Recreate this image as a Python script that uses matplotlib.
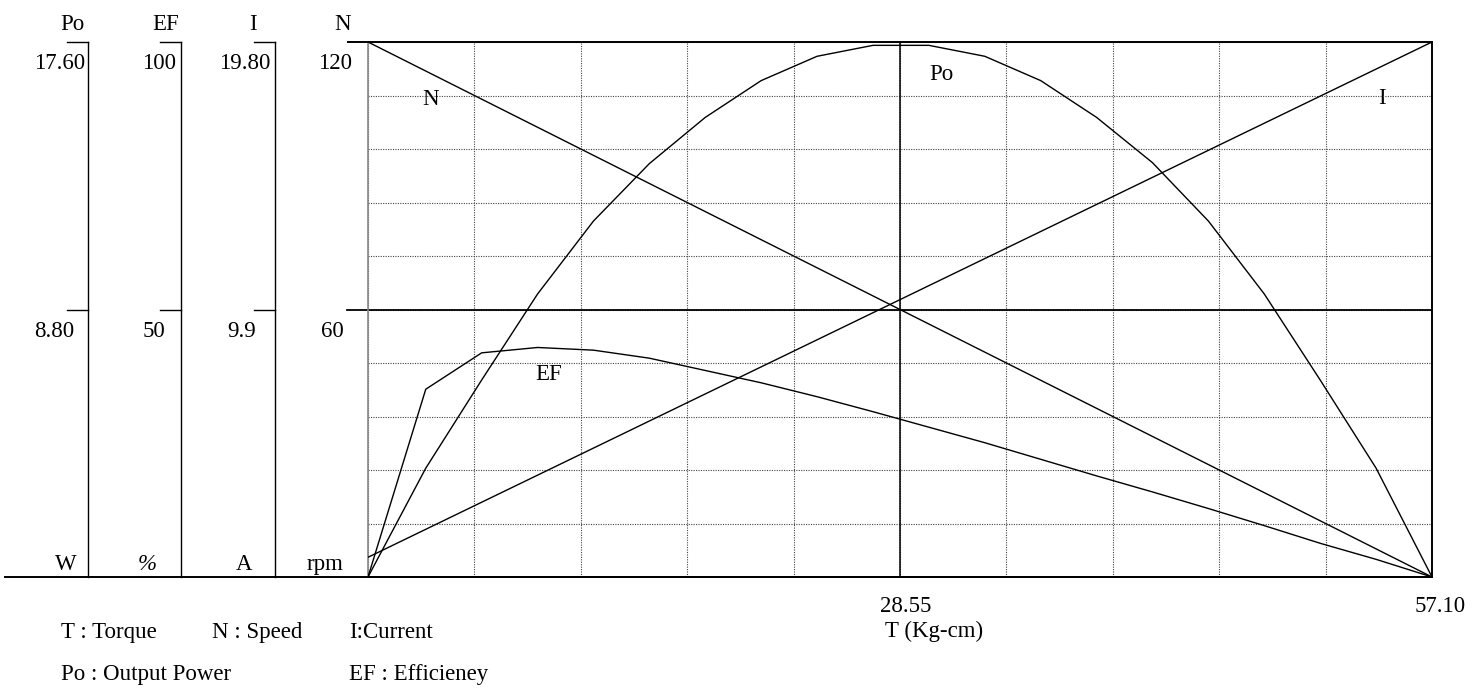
import matplotlib
matplotlib.use("Agg")
import matplotlib.pyplot as plt
import numpy as np

plt.rcParams['font.family'] = ['Liberation Serif', 'DejaVu Serif']

# ---------------- data ----------------
torque = [0, 3.1, 6.1, 9.1, 12.1, 15.1, 18.1, 21.1, 24.1, 27.1,
          30.1, 33.1, 36.1, 39.1, 42.1, 45.1, 48.1, 51.1, 54.1, 57.1]
power_w = [0, 3.58, 6.48, 9.31, 11.71, 13.60, 15.12, 16.33, 17.13, 17.49,
           17.49, 17.13, 16.33, 15.12, 13.63, 11.71, 9.31, 6.48, 3.58, 0]
eff_pct = [0, 35.1, 41.9, 42.9, 42.4, 40.9, 38.6, 36.3, 33.7, 30.9,
           28.0, 25.1, 22.0, 18.9, 15.9, 12.8, 9.6, 6.3, 3.3, 0]
line_torque = [0, 57.1]
speed_rpm = [120, 0]
current_a = [0.73, 19.80]

T_MAX = 57.1
PO_MAX, EF_MAX, I_MAX, N_MAX = 17.60, 100, 19.80, 120
x_labels = ["28.55", "57.10"]

# ---------------- figure ----------------
W, H = 1481, 694
fig = plt.figure(figsize=(W / 100, H / 100), dpi=100)
FS = 16.5

def fx(px):
    return px / W

def fy(py):
    return 1 - py / H

L, R, T, B = 368, 1432, 42, 577

# overlay for decorations (pixel coordinates)
ov = fig.add_axes([0, 0, 1, 1], zorder=0)
ov.set_xlim(0, W)
ov.set_ylim(H, 0)
ov.axis('off')

ax = fig.add_axes([fx(L), fy(B), (R - L) / W, (B - T) / H], zorder=2)
ax.set_facecolor('none')
ax.set_xlim(0, T_MAX)
ax.set_ylim(0, N_MAX)
ax.set_xticks(np.linspace(0, T_MAX, 11))
ax.set_yticks(np.linspace(0, N_MAX, 11))
ax.tick_params(length=0, labelbottom=False, labelleft=False)
ax.grid(True, color='#444444', linestyle=(0, (1, 1.2)), linewidth=0.8)
for s in ['top', 'right', 'bottom']:
    ax.spines[s].set_linewidth(1.4)
    ax.spines[s].set_color('black')
ax.spines['left'].set_color('#888888')
ax.spines['left'].set_linewidth(1.2)
ax.axvline(T_MAX / 2, color='black', lw=1.1)
ax.axhline(N_MAX / 2, color='black', lw=1.3)

# curves
ax.plot(line_torque, speed_rpm, color='black', lw=1.0)
axI = ax.twinx()
axI.set_ylim(0, I_MAX)
axI.axis('off')
axI.plot(line_torque, current_a, color='black', lw=1.0)
axP = ax.twinx()
axP.set_ylim(0, PO_MAX)
axP.axis('off')
axP.plot(torque, power_w, color='black', lw=1.0)
axE = ax.twinx()
axE.set_ylim(0, EF_MAX)
axE.axis('off')
axE.plot(torque, eff_pct, color='black', lw=1.0)

# ---------------- decorations ----------------
mid = (T + B) / 2
col_x = [88, 181, 275]
tick_len = [21, 21, 21]
for cx, tl in zip(col_x, tick_len):
    ov.plot([cx, cx], [T, B], color='black', lw=1.0)
    ov.plot([cx - tl, cx], [T, T], color='black', lw=1.0)
    ov.plot([cx - tl, cx], [mid, mid], color='black', lw=1.0)
ov.plot([348, L], [T, T], color='black', lw=1.4)
ov.plot([347, L], [mid, mid], color='black', lw=1.3)
ov.plot([5, R], [B, B], color='black', lw=1.4)

# headers
for txt, x in zip(["Po", "EF", "I", "N"], [72, 166, 253, 343]):
    ov.text(x, 30, txt, ha='center', va='baseline', fontsize=FS)
# top values
for txt, x in zip(["17.60", "100", "19.80", "120"], [85, 176, 270, 352]):
    ov.text(x, 69, txt, ha='right', va='baseline', fontsize=FS)
# mid values
for txt, x in zip(["8.80", "50", "9.9", "60"], [74, 165, 256, 344]):
    ov.text(x, 337, txt, ha='right', va='baseline', fontsize=FS)
# units
for txt, x in zip(["W", "%", "A", "rpm"], [66, 147, 244, 325]):
    ov.text(x, 570, txt, ha='center', va='baseline', fontsize=FS,
            style='italic' if txt == '%' else 'normal')

# curve labels
ov.text(431, 105, "N", ha='center', va='baseline', fontsize=FS)
ov.text(941, 80, "Po", ha='center', va='baseline', fontsize=FS)
ov.text(1382, 104, "I", ha='center', va='baseline', fontsize=FS)
ov.text(549, 380, "EF", ha='center', va='baseline', fontsize=FS)

# x axis labels
ov.text(906, 612, x_labels[0], ha='center', va='baseline', fontsize=FS)
ov.text(1440, 612, x_labels[1], ha='center', va='baseline', fontsize=FS)
ov.text(934, 637, "T (Kg-cm)", ha='center', va='baseline', fontsize=FS)

# legend
ov.text(61, 638, "T : Torque", ha='left', va='baseline', fontsize=FS)
ov.text(212, 638, "N : Speed", ha='left', va='baseline', fontsize=FS)
ov.text(349, 638, "I:Current", ha='left', va='baseline', fontsize=FS)
ov.text(61, 680, "Po : Output Power", ha='left', va='baseline', fontsize=FS)
ov.text(349, 680, "EF : Efficieney", ha='left', va='baseline', fontsize=FS)

fig.savefig("out.png", dpi=100, facecolor='white')
